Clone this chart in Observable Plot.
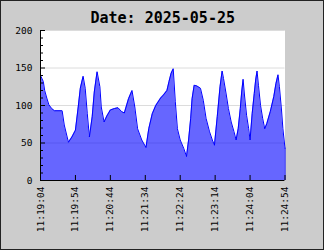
<!DOCTYPE html>
<html><head><meta charset="utf-8">
<script src="https://cdn.jsdelivr.net/npm/d3@7"></script>
<script src="https://cdn.jsdelivr.net/npm/@observablehq/plot@0.6"></script>
<style>
html,body{margin:0;padding:0;background:#cccccc;}
#wrap{position:relative;width:324px;height:250px;overflow:hidden;}
#wrap svg{display:block;}
#border{position:absolute;left:0;top:0;width:324px;height:250px;box-sizing:border-box;border:1px solid #222;pointer-events:none;}
</style></head><body><div id="wrap"><div id="border"></div></div>
<script>
const title = "Date: 2025-05-25";
const secs = [0,4,6,9,12,16,20,31,34,40,45,50,54,57,61,64,67,70,74,77,81,85,87,91,95,100,106,111,116,120,126,131,135,139,145,151,155,160,165,172,176,181,184,187,190,193,196,200,205,209,212,215,217,220,224,229,233,237,242,246,249,253,257,260,262,266,269,273,277,280,283,286,288,290,292,295,298,300,303,306,308,310,312,315,318,321,324,329,334,337,340,342,345,347,350];
const vals = [140,132,120,110,101,96,93,93,74,51,58,67,98,123,139,123,89,58,85,118,145,125,98,78,86,94,96,97,92,90,109,120,98,69,54,44,69,89,100,110,114,120,132,143,149,105,69,54,43,32,54,83,109,127,126,123,107,83,65,54,47,85,125,146,136,114,96,78,65,54,69,96,118,135,114,87,69,54,89,116,134,146,127,100,83,69,76,92,112,129,141,125,94,69,43];
const xTickSecs = [0,50,100,150,200,250,300,350];
const xTickLabels = ["11:19:04","11:19:54","11:20:44","11:21:34","11:22:24","11:23:14","11:24:04","11:24:54"];
const yTicks = [0,50,100,150,200];
const yMinor = [10,20,30,40,60,70,80,90,110,120,130,140,160,170,180,190];
const gridY = [50,100,150,200];

const data = secs.map((s, i) => ({s, v: vals[i]}));
const W = 324, H = 250, mL = 40, mR = 39.5, mT = 30, mB = 70;
const plotW = W - mL - mR, plotH = H - mT - mB;
const font = "DejaVu Sans Mono";

const chart = Plot.plot({
  width: W, height: H,
  marginLeft: mL, marginRight: mR, marginTop: mT, marginBottom: mB,
  style: {background: "transparent", fontFamily: font, fontSize: "9.5px", color: "#000", overflow: "visible"},
  x: {domain: [0, 350], axis: null, label: null},
  y: {domain: [0, 200], axis: null, label: null},
  marks: [
    Plot.frame({fill: "#ffffff", stroke: null}),
    Plot.ruleY(gridY, {stroke: "#dcdcdc", strokeWidth: 1}),
    Plot.areaY(data, {x: "s", y: "v", fill: "#0000ff", fillOpacity: 0.6}),
    Plot.lineY(data, {x: "s", y: "v", stroke: "#0000ff", strokeWidth: 1}),
    Plot.ruleX([data[data.length - 1]], {x: "s", y1: 0, y2: "v", stroke: "#0000ff"}),
    Plot.ruleY(yMinor, {stroke: "#000", insetRight: plotW - 3}),
    Plot.ruleY(yTicks, {stroke: "#000", insetRight: plotW - 5}),
    Plot.ruleX(xTickSecs, {stroke: "#000", insetTop: plotH - 5}),
    Plot.ruleX([0], {stroke: "#000"}),
    Plot.ruleY([0], {stroke: "#000"}),
    Plot.axisY({ticks: yTicks, label: null, tickSize: 0, tickPadding: 8, fontSize: 9.5, fontFamily: font}),
    Plot.axisX({ticks: xTickSecs, label: null, tickFormat: d => xTickLabels[xTickSecs.indexOf(d)], tickRotate: -90, tickSize: 0, tickPadding: 6, fontSize: 9.5, fontFamily: font}),
    Plot.text([title], {frameAnchor: "top", dy: -18, fontSize: 15, fontWeight: "bold", fontFamily: font, fill: "#000"})
  ]
});
document.getElementById("wrap").prepend(chart);
</script>
</body></html>
